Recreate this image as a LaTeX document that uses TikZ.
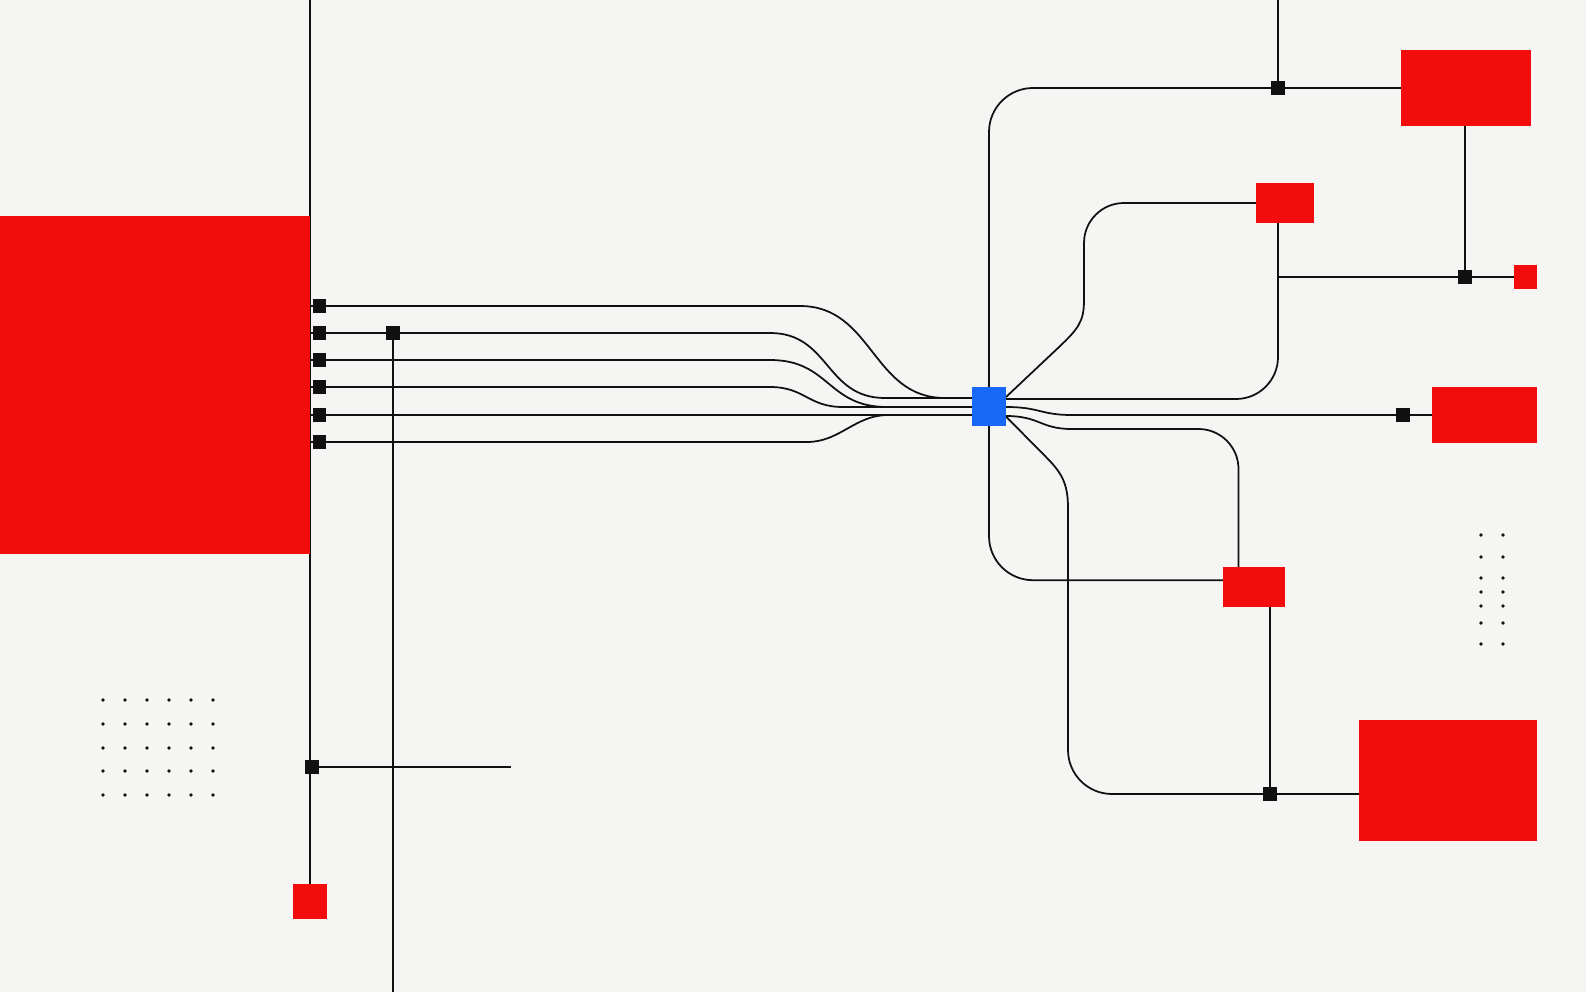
\documentclass[tikz,border=0pt]{standalone}
\usetikzlibrary{calc}
\definecolor{paper}{RGB}{245,245,243}
\definecolor{signal}{RGB}{242,12,12}
\definecolor{hubblue}{RGB}{22,104,245}
\definecolor{wire}{RGB}{17,17,17}
\pgfdeclarelayer{wires}
\pgfsetlayers{wires,main}

\begin{document}
\begin{tikzpicture}[x=0.05cm,y=-0.05cm,
	block/.style={fill=signal,draw=none,inner sep=0pt,outer sep=0pt},
	hub node/.style={fill=hubblue,inner sep=0pt,outer sep=0pt,minimum width=1.7cm,minimum height=1.95cm},
	joint/.style={fill=wire,inner sep=0pt,outer sep=0pt,minimum size=0.66cm},
	wiring/.style={color=wire,line width=2.5pt,line join=round}]
	
	\useasboundingbox (0,0) rectangle (1586,992);
	\coordinate (ceil) at (0,0);
	\coordinate (floor) at (0,992);
	\coordinate (jlend) at (511,767);
	
	% red blocks and the hub
	\node[block,minimum width=15.5cm,minimum height=16.9cm] (Rin) at (155,385) {};
	\node[block,minimum width=1.7cm,minimum height=1.75cm] (Rlow) at (310,901.5) {};
	\node[block,minimum width=6.5cm,minimum height=3.85cm] (Rtop) at (1466,88) {};
	\node[block,minimum width=2.9cm,minimum height=2cm] (Rmid) at (1285,203) {};
	\node[block,minimum width=1.15cm,minimum height=1.2cm] (Rtiny) at (1525.5,277) {};
	\node[block,minimum width=5.25cm,minimum height=2.8cm] (Rright) at (1484.5,415) {};
	\node[block,minimum width=3.1cm,minimum height=2cm] (Rsub) at (1254,587) {};
	\node[block,minimum width=8.9cm,minimum height=6.05cm] (Rbig) at (1448,780.5) {};
	\node[hub node] (H) at (989,406.5) {};
	
	% joints
	\foreach \y [count=\i] in {306,333,360,387,415,442}
		\node[joint] (p\i) at (319.5,\y) {};
	\node[joint] (jv) at (393,333) {};
	\node[joint] (jl) at (312,767) {};
	\node[joint] (jt) at (1278,88) {};
	\node[joint] (jtr) at (1465,277) {};
	\node[joint] (jr) at (1403,415) {};
	\node[joint] (jb) at (1270,794) {};
	
	% dot grids
	\foreach \x in {103,125,147,169,191,213}
		\foreach \y in {700,724,748,771,795}
			\fill[wire] (\x,\y) circle (0.09cm);
	\foreach \x in {1481,1503}
		\foreach \y in {535,557,578,592,606,623,644}
			\fill[wire] (\x,\y) circle (0.09cm);
	
	\begin{pgfonlayer}{wires}
	\fill[paper] (ceil) rectangle (1586,992);
	\begin{scope}[wiring]
	\draw (Rlow |- ceil) -- (Rlow);
	\draw (jv) -- (jv |- floor);
	\draw (jl) -- (jlend);
	
	% bundle into the hub
	\draw (Rin.east |- p1) -- (800,306) .. controls (873,306) and (872,398) .. (945,398) -- (H.west |- 0,398);
	\draw (Rin.east |- p2) -- (770,333) .. controls (830,333) and (825,398) .. (885,398) -- (H.west |- 0,398);
	\draw (Rin.east |- p3) -- (770,360) .. controls (830,360) and (827,407) .. (887,407) -- (H.west |- 0,407);
	\draw (Rin.east |- p4) -- (770,387) .. controls (805,387) and (808,407) .. (843,407) -- (H.west |- 0,407);
	\draw (Rin.east |- p5) -- (H.west |- p5);
	\draw (Rin.east |- p6) -- (807,442) .. controls (840,442) and (855,415) .. (888,415) -- (H.west |- 0,415);
	
	% out of the hub
	\draw[rounded corners=2.2cm] (H.center) |- (jt) -- (Rtop);
	\draw[rounded corners=2.2cm] (H.center) |- ($(Rsub.north west)!0.33!(Rsub.south west)$);
	\draw (H.east |- 0,397) -- (1058,348) .. controls (1078,329) and (1084,322) .. (1084,300)
		[rounded corners=2cm] |- (Rmid);
	\draw[rounded corners=2.1cm] (H.east |- 0,399) -| (Rmid.south -| jt);
	\draw (H.east |- 0,407) .. controls (1040,407) and (1040,415) .. (1072,415) -- (jr) -- (Rright);
	\draw (H.east |- 0,416) .. controls (1040,416) and (1040,429) .. (1072,429)
		[rounded corners=2cm] -| ($(Rsub.north west)!0.25!(Rsub.north east)$);
	\draw ($(H.east)+(-6,4)$) -- (1046,457) .. controls (1062,473) and (1068,484) .. (1068,508)
		[rounded corners=2.2cm] |- (jb) -- (jb -| Rbig.west);
	
	% right side
	\draw (jt |- ceil) -- (jt);
	\draw (Rtop.south -| jtr) -- (jtr);
	\draw (jtr -| jt) -- (jtr) -- (Rtiny);
	\draw (Rsub.south -| jb) -- (jb);
	\end{scope}
	\end{pgfonlayer}
\end{tikzpicture}
\end{document}
